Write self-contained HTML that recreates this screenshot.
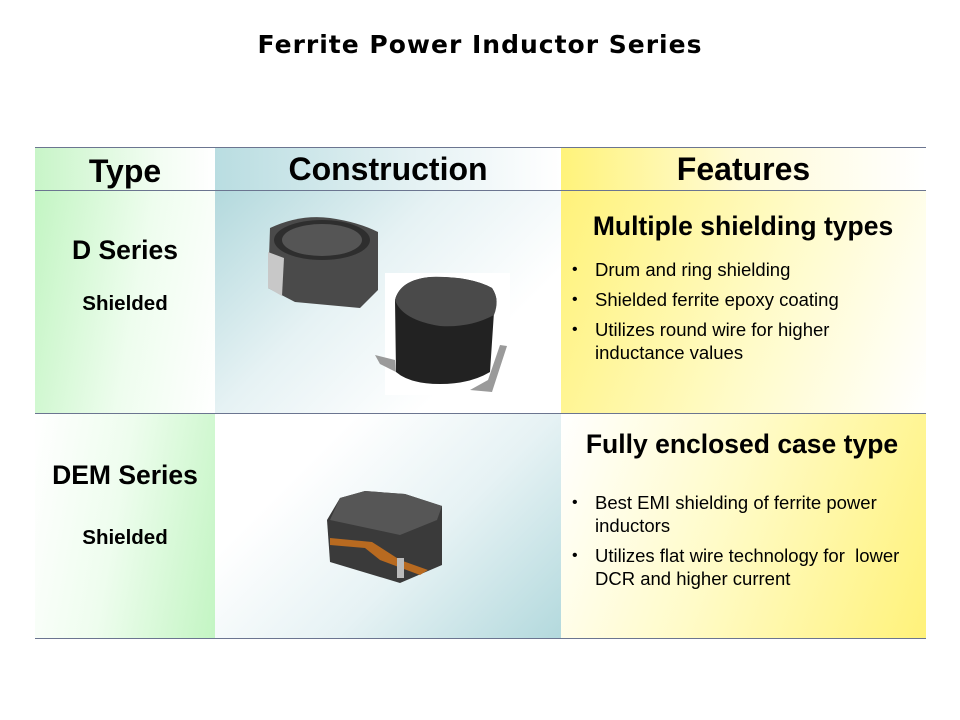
<!DOCTYPE html>
<html><head><style>
body{margin:0;width:960px;height:720px;background:#fff;position:relative;overflow:hidden;font-family:"Liberation Sans",Arial,sans-serif;}
.a{position:absolute;}
.t{position:absolute;text-align:center;font-weight:bold;color:#000;}
.line{position:absolute;left:35px;width:891px;height:1px;background:#6b7590;}
ul{margin:0;padding:0;list-style:none}
li{position:relative;padding-left:27px;font-size:18.5px;line-height:23px;margin-bottom:7px}
li:before{content:"•";position:absolute;left:4px;top:0;font-size:16px}
.h{font-size:26.5px}
.hd{font-size:32px}
</style></head><body>
<div class="t" style="left:0;width:960px;top:30px;font-family:'DejaVu Sans',sans-serif;font-size:25px;letter-spacing:1px;">Ferrite Power Inductor Series</div>

<div class="a" style="left:35px;top:147px;width:180px;height:43px;background:linear-gradient(90deg,#c8f5c8,#f3fdf3 70%,#fff)"></div>
<div class="a" style="left:215px;top:147px;width:346px;height:43px;background:linear-gradient(90deg,#b9dde1,#e6f2f4 60%,#fff)"></div>
<div class="a" style="left:561px;top:147px;width:365px;height:43px;background:linear-gradient(90deg,#fff37a,#fffbd8 50%,#fff)"></div>

<div class="a" style="left:35px;top:190px;width:180px;height:223px;background:linear-gradient(100deg,#c3f5c3,#eefdee 55%,#fff)"></div>
<div class="a" style="left:215px;top:190px;width:346px;height:223px;background:linear-gradient(135deg,#b3d9dd,#e6f2f4 40%,#fff 75%)"></div>
<div class="a" style="left:561px;top:190px;width:365px;height:223px;background:linear-gradient(110deg,#fff27a,#fffbc8 55%,#fff)"></div>

<div class="a" style="left:35px;top:413px;width:180px;height:225px;background:linear-gradient(280deg,#c3f5c3,#eefdee 55%,#fff)"></div>
<div class="a" style="left:215px;top:413px;width:346px;height:225px;background:linear-gradient(315deg,#b3d9dd,#e6f2f4 40%,#fff 75%)"></div>
<div class="a" style="left:561px;top:413px;width:365px;height:225px;background:linear-gradient(290deg,#fff27a,#fffbc8 55%,#fff)"></div>

<div class="line" style="top:147px"></div>
<div class="line" style="top:190px"></div>
<div class="line" style="top:413px"></div>
<div class="line" style="top:638px"></div>

<div class="t hd" style="left:35px;width:180px;top:153px;">Type</div>
<div class="t hd" style="left:215px;width:346px;top:151px;">Construction</div>
<div class="t hd" style="left:561px;width:365px;top:151px;">Features</div>

<div class="t" style="left:35px;width:180px;top:235px;font-size:26.5px;">D Series</div>
<div class="t" style="left:35px;width:180px;top:292px;font-size:20.5px;">Shielded</div>
<div class="t" style="left:35px;width:180px;top:460px;font-size:26.5px;">DEM Series</div>
<div class="t" style="left:35px;width:180px;top:526px;font-size:20.5px;">Shielded</div>

<div class="t h" style="left:543px;width:400px;top:211px;">Multiple shielding types</div>
<ul class="a" style="left:568px;top:258px;width:285px;">
<li>Drum and ring shielding</li>
<li>Shielded ferrite epoxy coating</li>
<li>Utilizes round wire for higher inductance values</li>
</ul>
<div class="t h" style="left:542px;width:400px;top:429px;">Fully enclosed case type</div>
<ul class="a" style="left:568px;top:491px;width:350px;">
<li>Best EMI shielding of ferrite power inductors</li>
<li>Utilizes flat wire technology for &nbsp;lower DCR and higher current</li>
</ul>

<svg class="a" style="left:215px;top:190px" width="346" height="448" viewBox="215 190 346 448">
 <path d="M270 228 Q300 214 330 218 Q358 222 378 232 L378 290 L360 308 L295 302 L268 288 Z" fill="#4a4a4a"/>
 <ellipse cx="322" cy="240" rx="48" ry="20" fill="#2e2e2e"/>
 <ellipse cx="322" cy="240" rx="40" ry="16" fill="#555"/>
 <path d="M268 252 L268 288 L282 296 L284 258 Z" fill="#c8c8c8"/>
 <rect x="385" y="273" width="125" height="122" fill="#fff"/>
 <path d="M395 300 Q400 280 430 277 Q470 276 492 288 Q500 300 494 312 L490 372 Q470 384 440 384 Q410 384 396 372 Z" fill="#222"/>
 <path d="M395 300 Q400 280 430 277 Q470 276 492 288 Q500 300 494 315 Q470 328 440 326 Q402 320 395 300 Z" fill="#4a4a4a"/>
 <path d="M375 355 L395 360 L396 372 L380 364 Z M488 380 L500 345 L507 346 L492 392 L470 390 Z" fill="#9a9a9a"/>
 <path d="M340 498 L365 491 L405 494 L442 506 L442 565 L400 583 L330 562 L327 520 Z" fill="#3a3a3a"/>
 <path d="M340 498 L365 491 L405 494 L442 506 L437 520 L400 535 L330 520 Z" fill="#565656"/>
 <path d="M330 545 L365 548 L380 560 L420 575 L428 570 L400 560 L372 542 L330 538 Z" fill="#b86a20"/>
 <rect x="397" y="558" width="7" height="20" fill="#bbb"/>
</svg>
</body></html>
